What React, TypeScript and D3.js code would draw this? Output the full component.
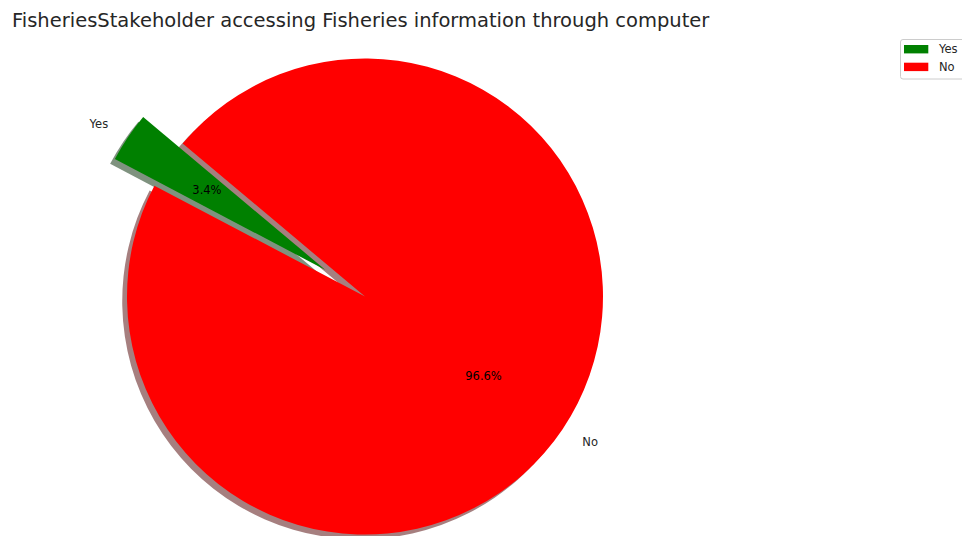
import React from "react";
import * as d3 from "d3";

const labels: string[] = ["Yes", "No"];
const values: number[] = [3.4, 96.6];
const colors: string[] = ["#008000", "#ff0000"];
const explode: number[] = [0.2, 0];
const titleText = "FisheriesStakeholder accessing Fisheries information through computer";

const W = 962;
const H = 536;
const cx = 365;
const cy = 296.5;
const R = 238;
const START_DEG = 140; // matplotlib startangle (counter-clockwise from 3 o'clock)

function shadowColor(c: string): string {
  const rgb = d3.rgb(c);
  return d3.rgb(rgb.r * 0.3, rgb.g * 0.3, rgb.b * 0.3).formatHex();
}

export default function App() {
  const a0 = ((90 - START_DEG) * Math.PI) / 180;
  const pie = d3
    .pie<number>()
    .sort(null)
    .startAngle(a0)
    .endAngle(a0 - 2 * Math.PI)(values);
  const arc = d3.arc<d3.PieArcDatum<number>>().innerRadius(0).outerRadius(R);
  const total = d3.sum(values);
  const font = "'DejaVu Sans', sans-serif";

  const items = pie.map((p, i) => {
    const mid = (p.startAngle + p.endAngle) / 2; // d3 angle: clockwise from 12 o'clock
    const ux = Math.sin(mid);
    const uy = -Math.cos(mid);
    const off = explode[i] * R;
    const ox = ux * off;
    const oy = uy * off;
    const lr = 1.1 * R;
    const pr = 0.6 * R;
    return {
      p,
      i,
      ox,
      oy,
      lx: ox + ux * lr,
      ly: oy + uy * lr,
      px: ox + ux * pr,
      py: oy + uy * pr,
      anchor: ux < 0 ? "end" : "start",
      pct: ((values[i] / total) * 100).toFixed(1) + "%",
    };
  });

  const sh = 0.02 * R;

  return (
    <svg width={W} height={H} style={{ display: "block", position: "absolute", left: 0, top: 0 }}>
      <rect x={0} y={0} width={W} height={H} fill="#fff" />
      <text x={12} y={27} fontFamily={font} fontSize={19.5} fill="#262626">
        {titleText}
      </text>
      <g transform={`translate(${cx},${cy})`}>
        {items.map((d) => (
          <path
            key={"s" + d.i}
            d={arc(d.p) || ""}
            transform={`translate(${d.ox - sh},${d.oy + sh})`}
            fill={shadowColor(colors[d.i])}
            fillOpacity={0.5}
          />
        ))}
        {items.map((d) => (
          <path key={"w" + d.i} d={arc(d.p) || ""} transform={`translate(${d.ox},${d.oy})`} fill={colors[d.i]} />
        ))}
        {items.map((d) => (
          <text
            key={"l" + d.i}
            x={d.lx}
            y={d.ly}
            textAnchor={d.anchor}
            dominantBaseline="central"
            fontFamily={font}
            fontSize={11.5}
            fill="#262626"
          >
            {labels[d.i]}
          </text>
        ))}
        {items.map((d) => (
          <text
            key={"p" + d.i}
            x={d.px}
            y={d.py}
            textAnchor="middle"
            dominantBaseline="central"
            fontFamily={font}
            fontSize={11.5}
            fill="#000"
          >
            {d.pct}
          </text>
        ))}
      </g>
      <g>
        <rect x={900.5} y={39.5} width={70} height={39.5} rx={2.5} fill="#fff" fillOpacity={0.8} stroke="#cccccc" strokeWidth={1} />
        {labels.map((l, i) => (
          <g key={"lg" + i} transform={`translate(904,${45 + i * 17.7})`}>
            <rect x={0} y={0} width={24.3} height={8.4} fill={colors[i]} />
            <text x={35} y={4.2} dominantBaseline="central" fontFamily={font} fontSize={11.5} fill="#262626">
              {l}
            </text>
          </g>
        ))}
      </g>
    </svg>
  );
}
